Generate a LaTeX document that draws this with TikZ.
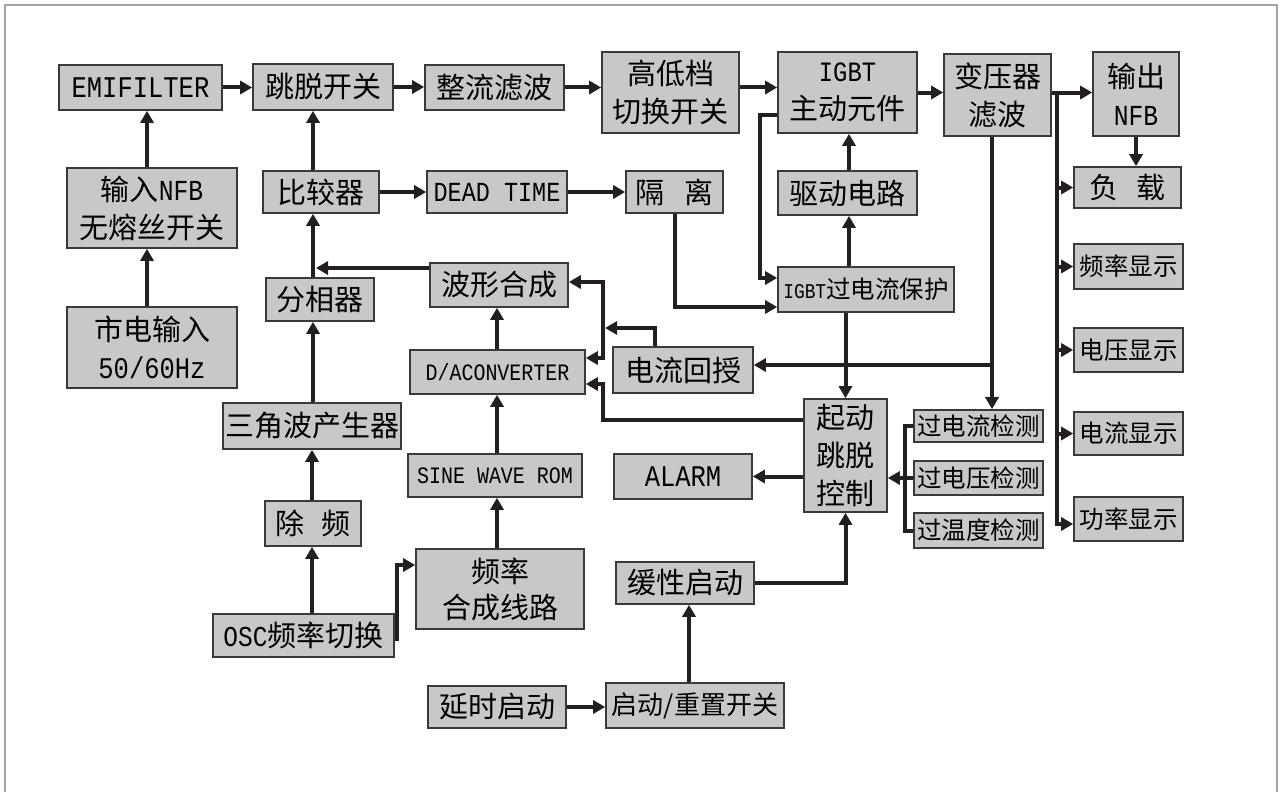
\documentclass[tikz,border=0pt]{standalone}
\usepackage{fontspec}
\setmainfont{Noto Sans CJK SC}
\newfontfamily\latf{Liberation Mono}[FakeStretch=0.85]
\usetikzlibrary{arrows.meta,calc}
\definecolor{boxfill}{RGB}{200,200,200}
\definecolor{boxline}{RGB}{58,58,58}
\definecolor{lnk}{RGB}{35,31,32}
\definecolor{frame}{RGB}{165,165,165}
\newcommand\ltn[2]{{\latf\fontsize{#1}{#1}\selectfont #2}}
\newcommand\bx[7][]{\node[box,minimum width={#5-#3},minimum height={#6-#4},#1] (#2) at ({(#3+#5)/2},{(#4+#6)/2}) {#7};}
\tikzset{
  box/.style={draw=boxline,line width=1.6pt,fill=boxfill,inner sep=0pt,align=center,
    font=\fontsize{29}{38}\selectfont},
  small/.style={font=\fontsize{24.5}{30}\selectfont},
  conn/.style={draw=lnk,line width=4pt},
  arr/.style={conn,-{Triangle[length=12pt,width=13pt]}},
  darr/.style={conn,{Triangle[length=12pt,width=13pt]}-{Triangle[length=12pt,width=13pt]}}
}
\begin{document}
\begin{tikzpicture}[x=1pt,y=-1pt]
\useasboundingbox (0,0) rectangle (1280,792);
\draw[frame,line width=1.5pt] (5,792) -- (5,5) -- (1277,5) -- (1277,792);

% nodes
\bx{emi}{59}{65}{222}{110}{\ltn{30}{EMIFILTER}}
\bx{trip}{253}{64}{393}{110}{跳脱开关}
\bx{rect}{425}{65}{564}{110}{整流滤波}
\bx{hl}{602}{52}{739}{133}{高低档\\切换开关}
\bx{igbt}{778}{52}{917}{133}{\ltn{28}{IGBT}\\主动元件}
\bx{tr}{944}{54}{1051}{136}{变压器\\滤波}
\bx{out}{1093}{52}{1179}{136}{输出\\\ltn{29}{NFB}}
\bx{load}{1074}{167}{1181}{208}{负\hspace{0.6em}载}
\bx{nfb}{67}{168}{237}{248}{输入\ltn{29}{NFB}\\无熔丝开关}
\bx{cmp}{263}{171}{379}{213}{比较器}
\bx{dead}{427}{171}{567}{213}{\ltn{27.6}{DEAD TIME}}
\bx{iso}{626}{171}{723}{213}{隔\hspace{0.7em}离}
\bx{drv}{778}{171}{917}{215}{驱动电路}
\bx[font=\fontsize{24.5}{30}\selectfont]{prot}{778}{267}{954}{312}{\ltn{21}{IGBT}过电流保护}
\bx{wave}{430}{263}{568}{307}{波形合成}
\bx{phase}{266}{278}{374}{321}{分相器}
\bx{mains}{67}{307}{237}{388}{市电输入\\\ltn{30}{50/60Hz}}
\bx{da}{410}{350}{585}{394}{\ltn{23.5}{D/ACONVERTER}}
\bx{fb}{613}{347}{753}{393}{电流回授}
\bx{start}{804}{399}{887}{512}{起动\\跳脱\\控制}
\bx[small]{oc}{914}{410}{1043}{442}{过电流检测}
\bx[small]{ov}{914}{461}{1043}{495}{过电压检测}
\bx[small]{ot}{914}{513}{1043}{548}{过温度检测}
\bx{tri}{223}{403}{401}{449}{三角波产生器}
\bx{sine}{408}{454}{582}{497}{\ltn{23.5}{SINE WAVE ROM}}
\bx{alarm}{614}{454}{752}{499}{\ltn{30}{ALARM}}
\bx{div}{265}{501}{361}{546}{除\hspace{0.6em}频}
\bx[font=\fontsize{29}{36}\selectfont]{fsyn}{416}{549}{584}{629}{频率\\合成线路}
\bx{soft}{616}{562}{754}{604}{缓性启动}
\bx{osc}{213}{614}{394}{657}{\ltn{28.8}{OSC}频率切换}
\bx{delay}{428}{686}{566}{728}{延时启动}
\bx[font=\fontsize{26}{30}\selectfont]{reset}{606}{683}{784}{728}{启动/重置开关}
\bx[small]{d1}{1074}{244}{1183}{289}{频率显示}
\bx[small]{d2}{1074}{328}{1183}{372}{电压显示}
\bx[small]{d3}{1074}{412}{1183}{455}{电流显示}
\bx[small]{d4}{1074}{497}{1183}{541}{功率显示}

% top power chain
\draw[arr] (emi.east) -- (emi.east -| trip.west);
\draw[arr] (trip.east) -- (trip.east -| rect.west);
\draw[arr] (rect.east) -- (rect.east -| hl.west);
\draw[arr] (hl.east |- rect.east) -- (igbt.west |- rect.east);
\draw[arr] (igbt.east) -- (igbt.east -| tr.west);
\draw[arr] (tr.east |- igbt.east) -- (out.west |- igbt.east);
\draw[arr] (out.south) -- (out.south |- load.north);
% output bus
\coordinate (bustop) at (1057,0 |- igbt.east);
\draw[conn] (bustop) -- (1057,526);
\draw[arr] (1057,0 |- load.west) -- (load.west);
\draw[arr] (1057,0 |- d1.west) -- (d1.west);
\draw[arr] (1057,0 |- d2.west) -- (d2.west);
\draw[arr] (1057,0 |- d3.west) -- (d3.west);
\draw[arr] (1057,524) -- (d4.west |- 0,524);

% left column
\draw[arr] (147,0 |- nfb.north) -- (147,0 |- emi.south);
\draw[arr] (147,0 |- mains.north) -- (147,0 |- nfb.south);
% control chain
\draw[arr] (313,0 |- cmp.north) -- (313,0 |- trip.south);
\draw[arr] (313,0 |- phase.north) -- (313,0 |- cmp.south);
\draw[arr] (313,0 |- tri.north) -- (313,0 |- phase.south);
\draw[arr] (312,0 |- div.north) -- (312,0 |- tri.south);
\draw[arr] (312,0 |- osc.north) -- (312,0 |- div.south);
\draw[arr] (cmp.east) -- (cmp.east -| dead.west);
\draw[arr] (dead.east) -- (dead.east -| iso.west);
\draw[arr] (iso.south) |- (prot.west |- 0,307);
\draw[arr] (igbt.west |- 0,115) -- (760,115) -- (760,278) -- (prot.west |- 0,278);
\draw[arr] (849,0 |- prot.north) -- (849,0 |- drv.south);
\draw[arr] (849,0 |- drv.north) -- (849,0 |- igbt.south);
\draw[arr] (start.north |- prot.south) -- (start.north);
\draw[arr] (992,0 |- tr.south) -- (992,0 |- oc.north);
\draw[arr] (992,365) -- (fb.east |- 0,365);
\draw[arr] (655,0 |- fb.north) -- (655,328) -- (605,328);
\draw[darr] (wave.east |- 0,282) -- (603,282) -- (603,358) -- (da.east |- 0,358);
\draw[arr] (start.west |- 0,420) -- (603,420) -- (603,384) -- (da.east |- 0,384);
\draw[arr] (wave.west |- 0,268) -- (316,268);
\draw[arr] (497,0 |- da.north) -- (497,0 |- wave.south);
\draw[arr] (497,0 |- sine.north) -- (497,0 |- da.south);
\draw[arr] (497,0 |- fsyn.north) -- (497,0 |- sine.south);
\draw[arr] (397,641) -- (397,565) -- (fsyn.west |- 0,565);
\draw[arr] (start.west |- alarm.east) -- (alarm.east);
% detection bracket
\draw[conn] (oc.west) -- (905,0 |- oc.west) -- (905,0 |- ot.west) -- (ot.west);
\draw[conn] (ov.west) -- (905,0 |- ov.west);
\draw[arr] (905,0 |- ov.west) -- (start.east |- ov.west);
% start chain
\draw[arr] (soft.east) -| (start.south);
\draw[arr] (delay.east) -- (delay.east -| reset.west);
\draw[arr] (689,0 |- reset.north) -- (689,0 |- soft.south);
\end{tikzpicture}
\end{document}
